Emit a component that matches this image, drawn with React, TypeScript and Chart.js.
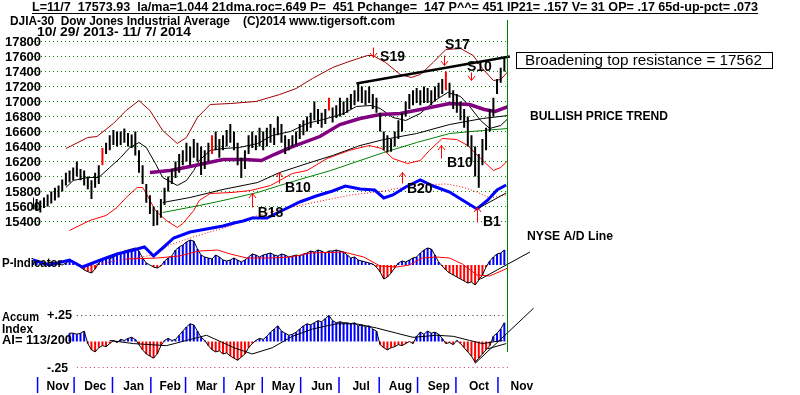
import React, { useEffect, useRef } from 'react';
import { Chart, registerables } from 'chart.js';
Chart.register(...registerables);

const FONT = "'Liberation Sans', Arial, sans-serif";

// x axis: trading day index, 0 = 10/29/2013, 259 = 11/7/2014
const DAY_MAX = 260;
const BAR_STEP = 2; // one hi-lo bar every two trading days

const months = ['Nov', 'Dec', 'Jan', 'Feb', 'Mar', 'Apr', 'May', 'Jun', 'Jul', 'Aug', 'Sep', 'Oct', 'Nov'];
const monthStartDay = [3, 23, 44, 65, 84, 105, 126, 147, 168, 190, 211, 232, 255];

const priceTicks = [15400, 15600, 15800, 16000, 16200, 16400, 16600, 16800, 17000, 17200, 17400, 17600, 17800];

const priceHigh = [
  15720, 15700, 15680, 15720, 15760, 15800, 15850, 15880, 15960, 16050,
  16080, 16120, 16200, 16100, 16080, 16000, 15950, 16050, 16150, 16380,
  16450, 16550, 16620, 16600, 16600, 16640, 16580, 16560, 16600, 16350,
  16150, 15900, 15750, 15600, 15550, 15700, 15850, 16000, 16100, 16200,
  16300, 16350, 16450, 16400, 16500, 16450, 16400, 16350, 16450, 16550,
  16600, 16500, 16550, 16620, 16700, 16600, 16450, 16250, 16350, 16550,
  16600, 16550, 16650, 16600, 16650, 16700, 16650, 16800, 16700, 16550,
  16500, 16550, 16600, 16700, 16750, 16800, 16850, 17000, 16900, 16850,
  16900, 17050, 16920, 16950, 17050, 17000, 17050, 17100, 17150, 17240,
  17200, 17150, 17200, 17100, 17050, 16850, 16600, 16550, 16500, 16600,
  16750, 16850, 17000, 17100, 17150, 17180, 17150, 17200, 17180, 17150,
  17200, 17250, 17300, 17400, 17250, 17150, 17100, 17000, 16900, 16800,
  16550, 16400, 16300, 16500, 16650, 16900, 17050, 17300, 17450, 17600,
];
const priceLow = [
  15560, 15540, 15520, 15580, 15600, 15640, 15680, 15720, 15800, 15880,
  15920, 15950, 16000, 15950, 15880, 15830, 15700, 15850, 15900, 16150,
  16300, 16350, 16420, 16400, 16420, 16450, 16400, 16380, 16280, 16050,
  15900, 15650, 15500, 15340, 15350, 15450, 15620, 15800, 15900, 15980,
  16050, 16150, 16200, 16150, 16250, 16200, 16020, 16100, 16200, 16300,
  16350, 16250, 16350, 16400, 16450, 16350, 16150, 15980, 16100, 16300,
  16380, 16350, 16400, 16350, 16400, 16450, 16420, 16550, 16450, 16300,
  16350, 16400, 16420, 16500, 16550, 16600, 16650, 16750, 16700, 16650,
  16700, 16880, 16720, 16780, 16800, 16820, 16850, 16900, 16950, 17000,
  16980, 16950, 16980, 16900, 16850, 16600, 16350, 16320, 16330, 16400,
  16500, 16600, 16800, 16900, 16950, 16980, 16950, 16980, 16980, 16950,
  17000, 17050, 17100, 17150, 17050, 16900, 16850, 16750, 16650, 16400,
  16200, 16000, 15850, 16150, 16350, 16600, 16800, 17100, 17250, 17400,
];
const redBarIdx = [19, 49, 81, 113];

const purpleDays = [64, 75, 86, 104, 116, 125, 132, 141, 157, 168, 179, 190, 201, 212, 228, 239, 247, 253, 260];
const purpleVals = [16053, 16080, 16133, 16227, 16227, 16213, 16293, 16387, 16533, 16693, 16773, 16827, 16840, 16893, 16973, 16960, 16893, 16867, 16933];

const upperBandDays = [18, 30, 35, 44, 51, 58, 64, 71, 79, 84, 90, 97, 108, 122, 135, 144, 153, 164, 173, 183, 186, 193, 201, 207, 212, 219, 226, 234, 241, 246, 252, 256, 260];
const upperBandVals = [16373, 16520, 16533, 16707, 16880, 17013, 16880, 16613, 16440, 16520, 16787, 16960, 16973, 17000, 17093, 17173, 17307, 17453, 17533, 17613, 17613, 17520, 17360, 17320, 17360, 17520, 17693, 17707, 17613, 17440, 17280, 17293, 17400];

const lowerBandDays = [20, 31, 40, 46, 51, 57, 60, 62, 67, 73, 79, 82, 88, 91, 97, 109, 119, 130, 135, 142, 150, 161, 173, 184, 191, 197, 205, 212, 217, 224, 232, 238, 245, 252, 256, 260];
const lowerBandVals = [15280, 15413, 15480, 15587, 15720, 15853, 15853, 15773, 15547, 15413, 15320, 15373, 15547, 15680, 15773, 15787, 15813, 15880, 15947, 16040, 16080, 16240, 16347, 16413, 16373, 16240, 16173, 16213, 16347, 16507, 16493, 16413, 16240, 16080, 16120, 16213];

const ma21Days = [18, 22, 30, 36, 42, 48, 53, 58, 62, 67, 71, 79, 84, 88, 91, 97, 104, 113, 123, 131, 141, 150, 159, 170, 177, 185, 190, 197, 204, 212, 220, 227, 234, 239, 245, 250, 256, 260];
const ma21Vals = [15853, 15947, 15987, 15987, 16120, 16253, 16387, 16453, 16387, 16173, 15987, 15880, 15947, 16080, 16213, 16347, 16373, 16387, 16440, 16547, 16600, 16707, 16760, 16840, 16933, 16947, 16907, 16787, 16747, 16840, 17013, 17120, 17067, 16933, 16747, 16640, 16680, 16773];

const longMaDays = [71, 86, 104, 123, 135, 150, 164, 179, 192, 210, 228, 246, 260];
const longMaVals = [15653, 15720, 15827, 15920, 16053, 16173, 16280, 16413, 16493, 16573, 16693, 16773, 16813];

const greenMaDays = [71, 91, 104, 123, 135, 146, 163, 179, 192, 210, 228, 246, 260];
const greenMaVals = [15520, 15613, 15680, 15787, 15880, 15960, 16080, 16213, 16320, 16453, 16573, 16613, 16640];

const adDays = [0, 9, 20, 27, 37, 46, 55, 61, 66, 71, 77, 86, 95, 104, 110, 115, 120, 128, 137, 146, 155, 164, 171, 179, 187, 192, 197, 204, 212, 219, 228, 235, 243, 249, 254, 259];
const adVals = [-35, -40, -35, -42, -35, -29, -25, -22, -31, -23, -13, -7, -4, -1, 2, 4, 7, 7, 15, 23, 29, 34, 39, 36, 35, 27, 30, 38, 45, 39, 33, 25, 16, 25, 35, 40];

const adMaDays = [28, 37, 48, 59, 66, 75, 86, 95, 108, 120, 137, 155, 174, 192, 210, 226, 235, 243, 250, 259];
const adMaVals = [-41, -39, -35, -32, -30, -20, -13, -8, -1, 8, 16, 23, 30, 34, 40, 41, 38, 33, 27, 30];

const pVals = [
  60, 90, 60, 30, 60, 90, 60, 30, 0, 60,
  120, 90, 30, -60, -150, -200, -240, -120, 60, 150,
  210, 180, 240, 300, 360, 420, 450, 480, 510, 420,
  210, 60, 0, -60, -90, -30, 120, 210, 270, 450,
  540, 600, 690, 750, 720, 480, 300, 240, 210, 180,
  300, 240, 150, 120, 150, 210, 150, 90, 150, 240,
  330, 300, 240, 300, 330, 360, 300, 270, 330, 300,
  240, 270, 300, 270, 330, 360, 420, 390, 450, 420,
  360, 420, 420, 450, 420, 390, 300, 210, 240, 150,
  120, 90, 60, 30, -60, -210, -420, -360, -240, -90,
  60, 120, 90, 150, 210, 240, 360, 450, 510, 480,
  300, 90, -30, -150, -240, -300, -360, -420, -480, -540,
  -510, -600, -450, -300, -60, 120, 240, 330, 360, 451,
];
const pMaDays = [51, 68, 80, 91, 101, 108, 117, 130, 141, 152, 170, 181, 190, 199, 206, 213, 221, 228, 235, 243, 250, 260];
const pMaVals = [180, 210, 270, 420, 450, 330, 210, 210, 240, 360, 390, 240, -30, -60, 0, 210, 240, 210, 30, -300, -330, -90];

const aiVals: (number | null)[] = [
  null, null, null, null, null, null, null, null, null, null,
  0.08, 0.08, 0.07, 0.08, 0.1, -0.02, -0.08, -0.1, -0.06, -0.04,
  -0.05, -0.02, 0.01, -0.01, 0.02, 0.01, 0.03, 0.04, 0.02, -0.03,
  -0.08, -0.12, -0.14, -0.16, -0.12, -0.04, 0.01, 0.03, 0.01, 0.02,
  0.06, 0.1, 0.14, 0.17, 0.16, 0.1, 0.04, 0.01, -0.04, -0.08,
  -0.1, -0.09, -0.12, -0.11, -0.14, -0.16, -0.18, -0.15, -0.12, -0.06,
  -0.02, 0.01, 0.03, 0.02, 0.05, 0.09, 0.12, 0.15, 0.1, 0.08,
  0.06, 0.07, 0.09, 0.12, 0.15, 0.17, 0.16, 0.18, 0.2, 0.19,
  0.22, 0.25, 0.2, 0.18, 0.19, 0.18, 0.18, 0.17, 0.18, 0.15,
  0.16, 0.14, 0.15, 0.12, 0.1, -0.03, -0.06, -0.08, -0.06, -0.05,
  -0.03, -0.04, -0.02, 0.0, -0.02, 0.05, 0.09, 0.07, 0.1, 0.08,
  0.09, 0.07, 0.03, -0.02, -0.01, -0.03, 0.01, -0.02, -0.06, -0.1,
  -0.14, -0.2, -0.16, -0.12, -0.08, -0.04, 0.05, 0.08, 0.12, 0.18,
];
const aiMaDays = [42, 55, 73, 84, 95, 110, 120, 131, 142, 153, 166, 177, 188, 199, 208, 221, 230, 239, 246, 257];
const aiMaVals = [0.01, -0.02, -0.04, 0.01, 0.06, -0.06, -0.12, -0.06, 0.05, 0.12, 0.17, 0.17, 0.13, 0.08, 0.04, 0.06, 0.05, 0.01, -0.02, 0.01];
const aiRefDays = [24, 260];

const topLineDays = [177, 261];
const topLineVals = [17240, 17600];
const adTrendDays = [243, 259];
const adTrendVals = [16, 32];
const pTrendDays = [245, 272];
const pTrendVals = [-420, 390];
const aiTrendDays = [242, 274];
const aiTrendVals = [-0.21, 0.32];
const aiTrend2Days = [249, 259];
const aiTrend2Vals = [-0.07, -0.02];

const signals = [
  { name: 'S19', day: 186, from: 17720, to: 17587, labelDay: 190, labelPrice: 17587 },
  { name: 'S17', day: 225, from: 17613, to: 17480, labelDay: 225.5, labelPrice: 17747 },
  { name: 'S10', day: 240, from: 17387, to: 17280, labelDay: 237.5, labelPrice: 17453 },
  { name: 'B10', day: 134.6, from: 15907, to: 16053, labelDay: 138, labelPrice: 15840 },
  { name: 'B18', day: 120, from: 15587, to: 15773, labelDay: 123, labelPrice: 15507 },
  { name: 'B10', day: 223.3, from: 16240, to: 16413, labelDay: 226.6, labelPrice: 16173 },
  { name: 'B20', day: 202, from: 15907, to: 16053, labelDay: 204.7, labelPrice: 15827 },
  { name: 'B1', day: 243, from: 15387, to: 15587, labelDay: 246.3, labelPrice: 15387 },
];

const header1 = 'L=11/7  17573.93  la/ma=1.044 21dma.roc=.649 P=  451 Pchange=  147 P^^= 451 IP21= .157 V= 31 OP= .17 65d-up-pct= .073';
const header2 = 'DJIA-30  Dow Jones Industrial Average    (C)2014 www.tigersoft.com';
const header3 = '10/ 29/ 2013- 11/ 7/ 2014';

const pts = (days: number[], vals: (number | null)[]) => days.map((d, i) => ({ x: d, y: vals[i] }));
const barDay = (k: number) => k * BAR_STEP;

function fitText(ctx: CanvasRenderingContext2D, s: string, x: number, y: number, width: number, font: string) {
  ctx.font = font;
  ctx.textBaseline = 'middle';
  ctx.textAlign = 'left';
  const w = ctx.measureText(s).width;
  ctx.save();
  ctx.translate(x, y);
  ctx.scale(width / w, 1);
  ctx.fillText(s, 0, 0);
  ctx.restore();
}

const overlay = {
  id: 'overlay',
  afterDatasetsDraw(chart: any) {
    const ctx: CanvasRenderingContext2D = chart.ctx;
    const xs = chart.scales.x;
    const yp = chart.scales.price;
    const yai = chart.scales.ai;
    ctx.save();
    ctx.fillStyle = '#000';
    // headers
    fitText(ctx, header1, 32, 7.5, 726, `bold 12px ${FONT}`);
    ctx.strokeStyle = '#000';
    ctx.lineWidth = 1;
    ctx.beginPath();
    ctx.moveTo(32, 13.5);
    ctx.lineTo(758, 13.5);
    ctx.stroke();
    fitText(ctx, header2, 10, 21.5, 385, `bold 13px ${FONT}`);
    fitText(ctx, header3, 37, 33, 154, `bold 12px ${FONT}`);

    // price tick labels
    for (const t of priceTicks) {
      fitText(ctx, String(t), 5, yp.getPixelForValue(t) + 0.5, 36, `bold 13px ${FONT}`);
    }

    // green last-day line
    const xr = Math.round(xs.getPixelForValue(DAY_MAX)) - 0.5;
    ctx.strokeStyle = '#008000';
    ctx.beginPath();
    ctx.moveTo(xr, 20);
    ctx.lineTo(xr, 352);
    ctx.stroke();

    // signals
    ctx.strokeStyle = '#ff0000';
    ctx.lineWidth = 1;
    for (const s of signals) {
      const x = Math.round(xs.getPixelForValue(s.day)) + 0.5;
      const y0 = yp.getPixelForValue(s.from);
      const y1 = yp.getPixelForValue(s.to);
      const dir = y1 > y0 ? 1 : -1;
      ctx.beginPath();
      ctx.moveTo(x, y0);
      ctx.lineTo(x, y1);
      ctx.moveTo(x - 3.5, y1 - dir * 4.5);
      ctx.lineTo(x, y1);
      ctx.lineTo(x + 3.5, y1 - dir * 4.5);
      ctx.stroke();
      ctx.fillStyle = '#000';
      ctx.font = `bold 14px ${FONT}`;
      ctx.textBaseline = 'middle';
      ctx.textAlign = 'left';
      ctx.fillText(s.name, xs.getPixelForValue(s.labelDay), yp.getPixelForValue(s.labelPrice));
    }

    // right side notes
    ctx.fillStyle = '#000';
    ctx.strokeStyle = '#000';
    ctx.strokeRect(516.5, 52.5, 256, 16);
    fitText(ctx, 'Broadening top resistance = 17562', 525, 60.5, 237, `15px ${FONT}`);
    fitText(ctx, 'BULLISH PRICE TREND', 530, 117, 138, `bold 12px ${FONT}`);
    fitText(ctx, 'NYSE A/D Line', 527, 237, 86, `bold 12px ${FONT}`);

    // indicator labels
    fitText(ctx, 'P-Indicator', 2, 263, 60, `bold 13px ${FONT}`);
    fitText(ctx, 'Accum', 2, 317.5, 37, `bold 13px ${FONT}`);
    fitText(ctx, 'Index', 2, 329, 31, `bold 13px ${FONT}`);
    fitText(ctx, 'AI= 113/200', 2, 340, 70, `bold 13px ${FONT}`);
    fitText(ctx, '+.25', 47, yai.getPixelForValue(0.25), 25, `bold 13px ${FONT}`);
    fitText(ctx, '-.25', 47, yai.getPixelForValue(-0.25) + 1, 21, `bold 13px ${FONT}`);

    // month axis
    ctx.strokeStyle = '#0000ff';
    ctx.lineWidth = 1.5;
    for (let i = 0; i < months.length; i++) {
      const sx = xs.getPixelForValue(monthStartDay[i] - 0.5);
      ctx.beginPath();
      ctx.moveTo(sx, 377);
      ctx.lineTo(sx, 393);
      ctx.stroke();
      const next = i + 1 < monthStartDay.length ? monthStartDay[i + 1] : monthStartDay[i] + 24;
      const cx = xs.getPixelForValue((monthStartDay[i] + next) / 2 - 0.5) + 2;
      ctx.fillStyle = '#000';
      ctx.font = `bold 12px ${FONT}`;
      ctx.textAlign = 'center';
      ctx.textBaseline = 'middle';
      ctx.fillText(months[i], cx, 387);
    }
    ctx.restore();
  },
};

const line = (data: any[], yAxisID: string, color: string, width: number, order: number, extra: any = {}) => ({
  type: 'line',
  data,
  yAxisID,
  xAxisID: 'x',
  borderColor: color,
  backgroundColor: color,
  borderWidth: width,
  pointRadius: 0,
  fill: false,
  tension: 0,
  spanGaps: true,
  order,
  ...extra,
});

export default function App() {
  const ref = useRef<HTMLCanvasElement>(null);
  useEffect(() => {
    document.body.style.margin = '0';
    const priceBars = priceHigh.map((h, k) => ({ x: barDay(k), y: [priceLow[k], h] }));
    const pBars = pVals.map((v, k) => ({ x: barDay(k), y: v }));
    const aiBars = aiVals.map((v, k) => ({ x: barDay(k), y: v }));
    const gridSets = priceTicks.map((t) =>
      line(pts([0, DAY_MAX], [t, t]), 'price', '#008000', 1, 9, { borderDash: [1, 3] })
    );
    const datasets: any[] = [
      line(pts(topLineDays, topLineVals), 'price', '#000', 2.5, 1, { clip: false }),
      line(pts(adTrendDays, adTrendVals), 'ad', '#000', 1, 1),
      line(pts(pTrendDays, pTrendVals), 'p', '#000', 1, 1, { clip: false }),
      line(pts(aiTrendDays, aiTrendVals), 'ai', '#000', 1, 1, { clip: false }),
      line(pts(aiTrend2Days, aiTrend2Vals), 'ai', '#000', 1, 1),
      {
        type: 'bar',
        data: priceBars,
        yAxisID: 'price',
        xAxisID: 'x',
        grouped: false,
        maxBarThickness: 2,
        backgroundColor: priceHigh.map((_, k) => (redBarIdx.includes(k) ? '#ff0000' : '#000000')),
        order: 2,
      },
      line(pts(adDays, adVals), 'ad', '#0000ff', 3, 3),
      line(pts(purpleDays, purpleVals), 'price', '#800080', 3.5, 4),
      line(pts(ma21Days, ma21Vals), 'price', '#000', 1, 5),
      line(pts(longMaDays, longMaVals), 'price', '#000', 1, 5),
      line(pts(greenMaDays, greenMaVals), 'price', '#008000', 1, 5),
      line(pts(upperBandDays, upperBandVals), 'price', '#a00000', 1, 5),
      line(pts(lowerBandDays, lowerBandVals), 'price', '#ff0000', 1, 5),
      line(pts(adMaDays, adMaVals), 'ad', '#ff0000', 1, 5, { borderDash: [1, 2] }),
      line(pts(pMaDays, pMaVals), 'p', '#ff0000', 1, 4),
      line(pBars, 'p', '#000', 1, 5),
      {
        type: 'bar',
        data: pBars,
        yAxisID: 'p',
        xAxisID: 'x',
        grouped: false,
        maxBarThickness: 2,
        backgroundColor: pVals.map((v) => (v >= 0 ? '#0000ff' : '#ff0000')),
        order: 6,
      },
      line(pts(aiMaDays, aiMaVals), 'ai', '#000', 1, 4),
      line(aiBars, 'ai', '#000', 1, 5, { spanGaps: false }),
      {
        type: 'bar',
        data: aiBars,
        yAxisID: 'ai',
        xAxisID: 'x',
        grouped: false,
        maxBarThickness: 2,
        backgroundColor: aiVals.map((v) => ((v ?? 0) >= 0 ? '#0000ff' : '#ff0000')),
        order: 6,
      },
      line(pts(aiRefDays, [0.25, 0.25]), 'ai', '#303030', 1, 7, { borderDash: [1, 3.3] }),
      line(pts(aiRefDays, [-0.25, -0.25]), 'ai', '#d03070', 1, 7, { borderDash: [1, 3.3] }),
      ...gridSets,
    ];

    const chart = new Chart(ref.current as HTMLCanvasElement, {
      type: 'line',
      data: { datasets },
      options: {
        responsive: false,
        animation: false,
        events: [],
        layout: { autoPadding: false, padding: { left: 33, right: 292, top: 30, bottom: 20 } },
        plugins: { legend: { display: false }, tooltip: { enabled: false } },
        scales: {
          x: { type: 'linear', min: 0, max: DAY_MAX, offset: false, display: false },
          price: { type: 'linear', axis: 'y', position: 'left', display: false, min: 13353.33, max: 17953.33 },
          ad: { type: 'linear', axis: 'y', position: 'left', display: false, min: -150, max: 195 },
          p: { type: 'linear', axis: 'y', position: 'left', display: false, min: -3300, max: 7050 },
          ai: { type: 'linear', axis: 'y', position: 'left', display: false, min: -0.3221, max: 2.9952 },
        },
      } as any,
      plugins: [overlay],
    });
    return () => chart.destroy();
  }, []);
  return (
    <div style={{ width: 800, height: 395, background: '#fff' }}>
      <canvas ref={ref} width={800} height={395} style={{ display: 'block' }} />
    </div>
  );
}
